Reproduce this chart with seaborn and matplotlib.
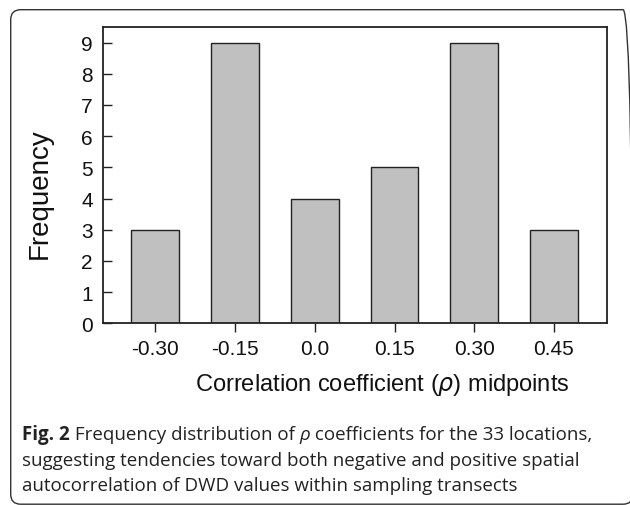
import matplotlib
matplotlib.use("Agg")
import matplotlib.pyplot as plt
import matplotlib.transforms as mtransforms
import seaborn as sns
import pandas as pd
from matplotlib.patches import FancyBboxPatch

midpoints = ["-0.30", "-0.15", "0.0", "0.15", "0.30", "0.45"]
frequency = [3, 9, 4, 5, 9, 3]
y_ticks = [0, 1, 2, 3, 4, 5, 6, 7, 8, 9]

sns.set_theme(style="white")
plt.rcParams['font.family'] = ['Liberation Sans', 'DejaVu Sans']

fig = plt.figure(figsize=(6.3, 5.06), dpi=100)
ax = fig.add_axes([102.7/630, 1-324.3/506, (607-102.7)/630, (324.3-28)/506])

df = pd.DataFrame({"mid": midpoints, "freq": frequency})
sns.barplot(data=df, x="mid", y="freq", order=midpoints, color="#c0c0c0",
            edgecolor="#222222", linewidth=1.0, width=0.6, saturation=1, ax=ax)

ax.set_xlim(-0.66, 5.665)
ax.set_ylim(0, 9.5)
ax.set_yticks(y_ticks)
ax.set_yticklabels([str(t) for t in y_ticks])
ax.tick_params(axis='y', direction='in', length=6.5, width=1.0, pad=7,
               labelsize=15, left=True, color='#222222', labelcolor='#111111')
ax.tick_params(axis='x', direction='out', length=6.5, width=1.0, pad=5,
               labelsize=15, bottom=True, color='#222222', labelcolor='#111111')
for s in ax.spines.values():
    s.set_visible(True)
    s.set_color('#222222')
    s.set_linewidth(1.3)
ax.set_ylabel("Frequency", fontsize=20, color='#111111')
ax.yaxis.set_label_coords(-0.1, 0.44)
ax.set_xlabel("Correlation coefficient ($\\rho$) midpoints", fontsize=17, color='#111111')
ax.xaxis.set_label_coords(0.554, -0.16)

# figure border (pixel coordinates)
border = FancyBboxPatch((10.7, 0.8), 633 - 10.7, 495.3 - 0.8,
                        boxstyle="round,pad=0,rounding_size=10",
                        transform=mtransforms.IdentityTransform(), fill=False,
                        edgecolor='#333333', linewidth=1.0, clip_on=False)
fig.patches.append(border)

# caption with mixed styles
cap_font = ['Open Sans', 'DejaVu Sans']
cap_size = 13.5
lines = [
    [("Fig. 2", "bold", "normal"), (" Frequency distribution of ", "normal", "normal"),
     ("\u03c1", "normal", "italic"), (" coefficients for the 33 locations,", "normal", "normal")],
    [("suggesting tendencies toward both negative and positive spatial", "normal", "normal")],
    [("autocorrelation of DWD values within sampling transects", "normal", "normal")],
]
line_y = [435, 461, 486]
fig.canvas.draw()
renderer = fig.canvas.get_renderer()
for pieces, yy in zip(lines, line_y):
    x = 22
    for txt, weight, style in pieces:
        t = fig.text(x/630, 1-yy/506, txt, fontsize=cap_size, family=cap_font,
                     weight=weight, style=style, va='center', ha='left', color='#222222')
        bb = t.get_window_extent(renderer=renderer)
        x = bb.x1

fig.savefig("out.png", dpi=100)
